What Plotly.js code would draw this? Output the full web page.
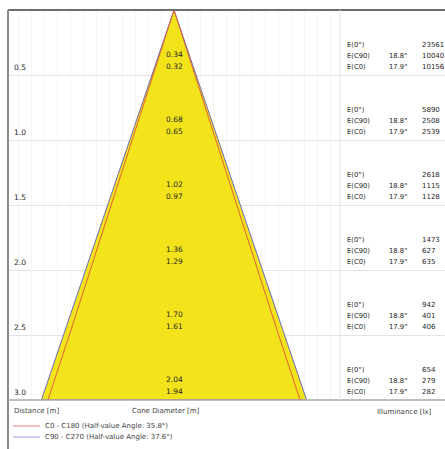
<!DOCTYPE html>
<html>
<head>
<meta charset="utf-8">
<script src="https://cdn.plot.ly/plotly-3.0.1.min.js"></script>
<style>html,body{margin:0;padding:0;background:#fff;}#chart{width:445px;height:449px;}</style>
</head>
<body>
<div id="chart"></div>
<script>
// ---- data ----
var distances = [0.5, 1.0, 1.5, 2.0, 2.5, 3.0];
var distanceLabels = ["0.5", "1.0", "1.5", "2.0", "2.5", "3.0"];
var diamC90 = [0.34, 0.68, 1.02, 1.36, 1.70, 2.04];   // C90 - C270
var diamC0 = [0.32, 0.65, 0.97, 1.29, 1.61, 1.94];    // C0 - C180
var eCenter = [23561, 5890, 2618, 1473, 942, 654];
var eC90 = [10040, 2508, 1115, 627, 401, 279];
var eC0 = [10156, 2539, 1128, 635, 406, 282];
var angleC90 = "18.8°";
var angleC0 = "17.9°";
var seriesNames = ["C0 - C180 (Half-value Angle: 35.8°)", "C90 - C270 (Half-value Angle: 37.6°)"];
var colC0 = "#e0603a", colC90 = "#6a6ab8";

function fmt2(v){ return v.toFixed(2); }
function cone(diams){
  var xs = [0], ys = [0];
  for (var i = 0; i < distances.length; i++){ xs.push(-diams[i]/2); ys.push(distances[i]); }
  for (var j = distances.length - 1; j >= 0; j--){ xs.push(diams[j]/2); ys.push(distances[j]); }
  xs.push(0); ys.push(0);
  return {x: xs, y: ys};
}
var outer = cone(diamC90), inner = cone(diamC0);

var traces = [
  {x: outer.x, y: outer.y, type: "scatter", mode: "lines", fill: "toself",
   fillcolor: "#f3e31a", line: {color: colC90, width: 1}, hoverinfo: "skip", showlegend: false},
  {x: inner.x, y: inner.y, type: "scatter", mode: "lines",
   line: {color: colC0, width: 1}, hoverinfo: "skip", showlegend: false}
];

var FONT = "DejaVu Sans";
var TC = "#262626";
var ann = [];
var sepX = 1.277;
for (var i = 0; i < distances.length; i++){
  var d = distances[i];
  ann.push({x: -1.245, y: d, xref: "x", yref: "y", text: distanceLabels[i], showarrow: false,
            xanchor: "left", yanchor: "middle", yshift: 8, font: {family: FONT, size: 7.5, color: TC}});
  ann.push({x: 0, y: d, xref: "x", yref: "y", text: fmt2(diamC90[i]), showarrow: false,
            xanchor: "center", yanchor: "middle", yshift: 21, font: {family: FONT, size: 7.5, color: TC}});
  ann.push({x: 0, y: d, xref: "x", yref: "y", text: fmt2(diamC0[i]), showarrow: false,
            xanchor: "center", yanchor: "middle", yshift: 9, font: {family: FONT, size: 7.5, color: TC}});
  var rows = [["E(0°)", "", eCenter[i], 30], ["E(C90)", angleC90, eC90[i], 19], ["E(C0)", angleC0, eC0[i], 8]];
  for (var r = 0; r < rows.length; r++){
    ann.push({x: 1.315, y: d, xref: "x", yref: "y", text: rows[r][0], showarrow: false,
              xanchor: "left", yanchor: "middle", yshift: rows[r][3], font: {family: FONT, size: 6.8, color: TC}});
    if (rows[r][1]) ann.push({x: 1.64, y: d, xref: "x", yref: "y", text: rows[r][1], showarrow: false,
              xanchor: "left", yanchor: "middle", yshift: rows[r][3], font: {family: FONT, size: 6.8, color: TC}});
    ann.push({x: 1.89, y: d, xref: "x", yref: "y", text: String(rows[r][2]), showarrow: false,
              xanchor: "left", yanchor: "middle", yshift: rows[r][3], font: {family: FONT, size: 7, color: TC}});
  }
}
// footer headings
function py(pix){ return (400 - pix) / 390; }
function px(pix){ return (pix - 8) / 437; }
var FC = "#444";
ann.push({x: px(12), y: py(411), xref: "paper", yref: "paper", text: "Distance [m]", showarrow: false,
          xanchor: "left", yanchor: "middle", font: {family: FONT, size: 7, color: FC}});
ann.push({x: px(130), y: py(411), xref: "paper", yref: "paper", text: "Cone Diameter [m]", showarrow: false,
          xanchor: "left", yanchor: "middle", font: {family: FONT, size: 7, color: FC}});
ann.push({x: px(434), y: py(412), xref: "paper", yref: "paper", text: "Illuminance [lx]", showarrow: false,
          xanchor: "right", yanchor: "middle", font: {family: FONT, size: 7, color: FC}});
ann.push({x: px(43), y: py(426), xref: "paper", yref: "paper", text: seriesNames[0], showarrow: false,
          xanchor: "left", yanchor: "middle", font: {family: FONT, size: 7, color: FC}});
ann.push({x: px(43), y: py(437), xref: "paper", yref: "paper", text: seriesNames[1], showarrow: false,
          xanchor: "left", yanchor: "middle", font: {family: FONT, size: 7, color: FC}});

var shapes = [
  // frame
  {type: "line", xref: "paper", yref: "paper", x0: 0, x1: 1.01, y0: 1, y1: 1, line: {color: "#6e6e6e", width: 2}},
  {type: "line", xref: "paper", yref: "paper", x0: 0, x1: 0, y0: 1, y1: py(452), line: {color: "#8a8a8a", width: 2}},
  {type: "line", xref: "paper", yref: "paper", x0: 0, x1: 1.01, y0: 0, y1: 0, line: {color: "#a8a8a8", width: 1.5}},
  // separator
  {type: "line", xref: "x", yref: "paper", x0: sepX, x1: sepX, y0: 0, y1: 1, line: {color: "#e2e2e2", width: 1}},
  // legend swatches
  {type: "line", xref: "paper", yref: "paper", x0: px(13), x1: px(40), y0: py(426), y1: py(426), line: {color: "#e88080", width: 1}},
  {type: "line", xref: "paper", yref: "paper", x0: px(13), x1: px(40), y0: py(437), y1: py(437), line: {color: "#9a9ad8", width: 1}}
];

var gridX = [];
for (var g = -12; g <= 12; g++) gridX.push(g / 10);

var layout = {
  width: 445, height: 449,
  margin: {l: 8, r: 0, t: 10, b: 49, pad: 0},
  paper_bgcolor: "#ffffff", plot_bgcolor: "#ffffff",
  showlegend: false,
  xaxis: {range: [-1.2769, 2.0846], showgrid: true, tickvals: gridX, gridcolor: "#f5f5f5", gridwidth: 1,
          showticklabels: false, zeroline: false, showline: false, ticks: "", fixedrange: true},
  yaxis: {range: [3.0, 0], showgrid: true, tickvals: distances.slice(0, 5), gridcolor: "#e4e4e4", gridwidth: 1,
          showticklabels: false, zeroline: false, showline: false, ticks: "", fixedrange: true},
  annotations: ann,
  shapes: shapes
};
Plotly.newPlot("chart", traces, layout, {displayModeBar: false, staticPlot: true});
</script>
</body>
</html>
